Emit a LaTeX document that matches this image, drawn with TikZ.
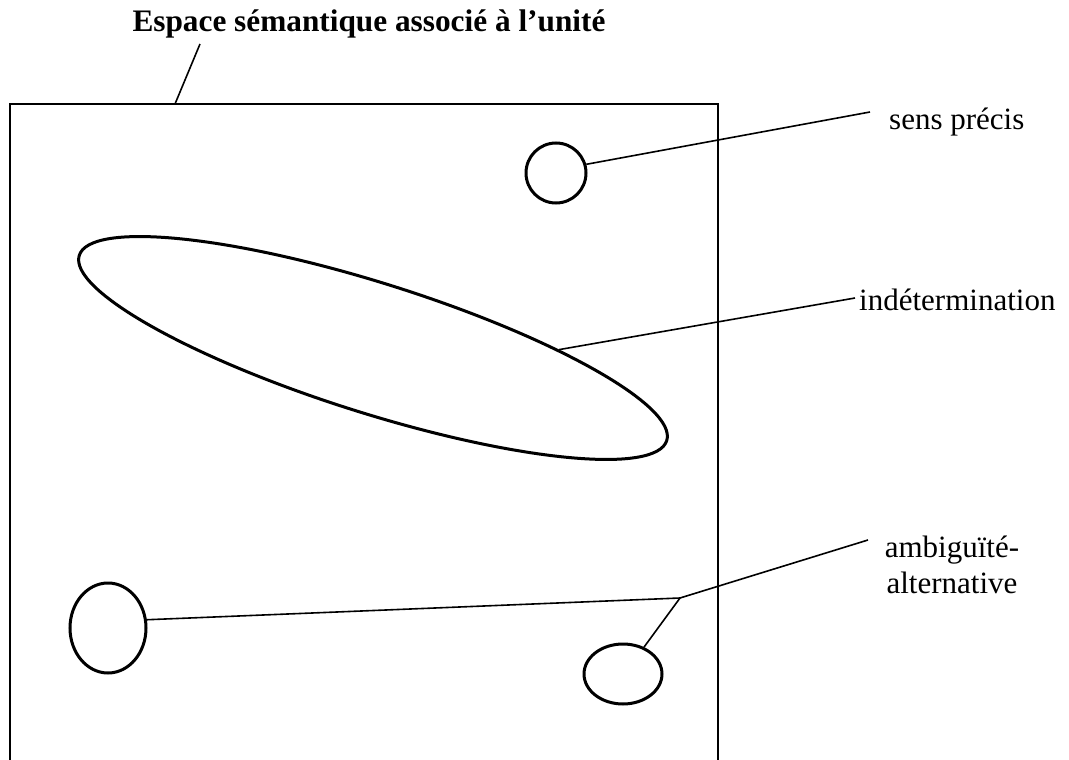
\documentclass[tikz,border=0pt]{standalone}
\usepackage{fontspec}
\setmainfont{Liberation Serif}
\usetikzlibrary{shapes.geometric}
\begin{document}
\begin{tikzpicture}[x=1pt,y=-1pt,
  blob/.style={draw,ellipse,line width=3pt,inner sep=0pt},
  conn/.style={line width=1.6pt},
  lbl/.style={font=\fontsize{31}{36}\selectfont,inner sep=0pt,align=center},
  ttl/.style={font=\fontsize{31.3}{36}\selectfont\bfseries,inner sep=0pt}]
\useasboundingbox (0,0) rectangle (1069,760);
\clip (0,0) rectangle (1069,760);
% frame
\draw[line width=1.6pt] (10,770) -- (10,104) -- (718,104) -- (718,770);
\coordinate (boxtop) at (175,104);
% title
\node[ttl,anchor=base] (title) at (369,32) {Espace sémantique associé à l’unité};
\coordinate (titfoot) at (200,44);
\draw[conn] (boxtop) -- (titfoot);
% shapes
\node[blob,minimum width=60pt,minimum height=60pt] (prec) at (556,173) {};
\node[blob,minimum width=616pt,minimum height=130pt,rotate=-17.5] (indet) at (373,348) {};
\node[blob,minimum width=76pt,minimum height=90pt] (ambA) at (108,628) {};
\node[blob,minimum width=78pt,minimum height=60pt] (ambB) at (623,674) {};
% labels
\node[lbl,anchor=base west] (lprec) at (889,129) {sens précis};
\coordinate (eprec) at (870,112);
\node[lbl,anchor=base west] (lindet) at (859,310) {indétermination};
\coordinate (eindet) at (855,298);
\node[lbl,anchor=center] (lamb) at (952,565) {ambiguïté-\\alternative};
\coordinate (eamb) at (868,540);
\coordinate (junc) at (680,598);
% connectors
\draw[conn] (prec.16) -- (eprec);
\draw[conn] (indet.17) -- (eindet);
\draw[conn] (ambA.12) -- (junc) -- (eamb);
\draw[conn] (junc) -- (ambB.52);
\end{tikzpicture}
\end{document}
